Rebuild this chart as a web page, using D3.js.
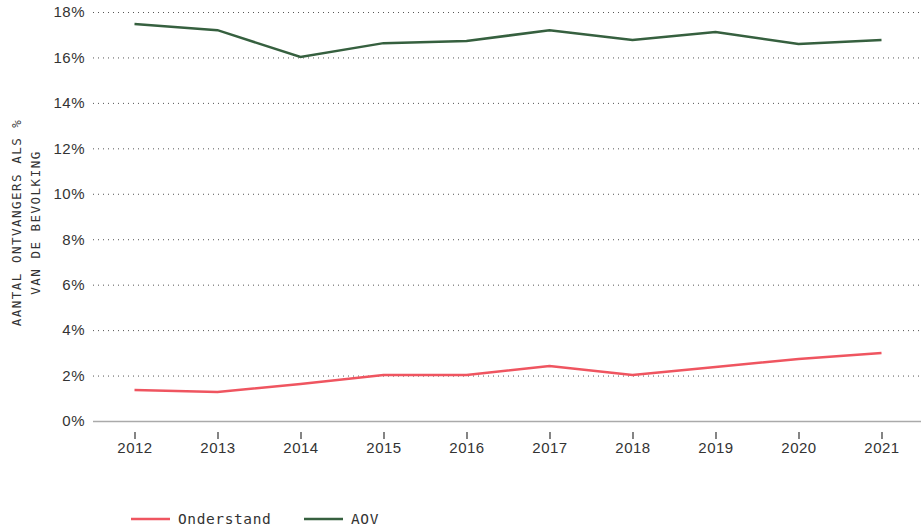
<!DOCTYPE html>
<html>
<head>
<meta charset="utf-8">
<script src="https://cdn.jsdelivr.net/npm/d3@7"></script>
<style>
  body { margin: 0; background: #fff; }
  .tick text { font-family: "Liberation Sans", Arial, sans-serif; font-size: 15px; fill: #333; letter-spacing: 0.5px; }
  .mono { font-family: "DejaVu Sans Mono", monospace; fill: #333; }
</style>
</head>
<body>
<div id="chart"></div>
<script>
const years = [2012, 2013, 2014, 2015, 2016, 2017, 2018, 2019, 2020, 2021];
const onderstand = [1.36, 1.28, 1.63, 2.02, 2.02, 2.42, 2.02, 2.38, 2.73, 2.99];
const aov = [17.47, 17.2, 16.02, 16.63, 16.72, 17.2, 16.77, 17.12, 16.59, 16.77];
const yTicks = [0, 2, 4, 6, 8, 10, 12, 14, 16, 18];

const series = [
  {name: "Onderstand", values: onderstand, color: "#ef5560"},
  {name: "AOV", values: aov, color: "#36603f"}
];

let W = 921, H = 529;
let margin = {top: 12, right: 0, bottom: 108, left: 93};
let width = W - margin.left - margin.right;
let height = H - margin.top - margin.bottom;

let svg = d3.select('#chart').append('svg')
  .attr('width', W)
  .attr('height', H);

let g = svg.append('g')
  .attr('transform', `translate(${margin.left}, ${margin.top})`);

// years are spaced a bit wider than the visible plot, last half-step is cut off
let x = d3.scalePoint()
  .domain(years)
  .range([0, 830])
  .padding(0.5);

let y = d3.scaleLinear()
  .domain([0, 18])
  .range([height, 0]);

// gridlines + y labels
let yAxis = g.append('g')
  .call(d3.axisLeft(y).tickValues(yTicks).tickFormat(d => d + '%').tickSize(-width).tickPadding(8));
yAxis.select('.domain').remove();
yAxis.selectAll('.tick line')
  .attr('stroke', '#555')
  .attr('stroke-dasharray', '1,4')
  .attr('stroke-width', 1);
yAxis.selectAll('.tick').filter(d => d === 0).select('line')
  .attr('stroke', '#aaa')
  .attr('stroke-dasharray', null)
  .attr('stroke-width', 1.5);

// x axis
let xAxis = g.append('g')
  .attr('transform', `translate(0, ${height})`)
  .call(d3.axisBottom(x).tickSize(0).tickPadding(21));
xAxis.select('.domain').remove();
xAxis.selectAll('.tick')
  .append('line')
  .attr('y1', 11).attr('y2', 18)
  .attr('stroke', '#333')
  .attr('stroke-width', 1.2);

// y axis title
let title = svg.append('text')
  .attr('class', 'mono')
  .attr('transform', `translate(21, ${margin.top + height / 2 + 6}) rotate(-90)`)
  .attr('text-anchor', 'middle')
  .style('font-size', '12.5px')
  .style('letter-spacing', '1.5px');
title.append('tspan').attr('x', 0).attr('dy', 0).text('AANTAL ONTVANGERS ALS %');
title.append('tspan').attr('x', 0).attr('dy', 19).text('VAN DE BEVOLKING');

// lines
let line = d3.line()
  .x((d, i) => x(years[i]))
  .y(d => y(d));

g.selectAll('.serie')
  .data(series)
  .enter()
  .append('path')
  .attr('class', 'serie')
  .attr('d', d => line(d.values))
  .attr('fill', 'none')
  .attr('stroke', d => d.color)
  .attr('stroke-width', 2.5);

// legend
let legendX = [131, 304];
let legend = svg.selectAll('.legend')
  .data(series)
  .enter()
  .append('g')
  .attr('class', 'legend')
  .attr('transform', (d, i) => `translate(${legendX[i]}, 519)`);
legend.append('line')
  .attr('x1', 0).attr('x2', 39)
  .attr('stroke', d => d.color)
  .attr('stroke-width', 2.5);
legend.append('text')
  .attr('class', 'mono')
  .attr('x', 47)
  .attr('dy', '0.35em')
  .style('font-size', '14.5px')
  .style('letter-spacing', '0.6px')
  .text(d => d.name);
</script>
</body>
</html>
